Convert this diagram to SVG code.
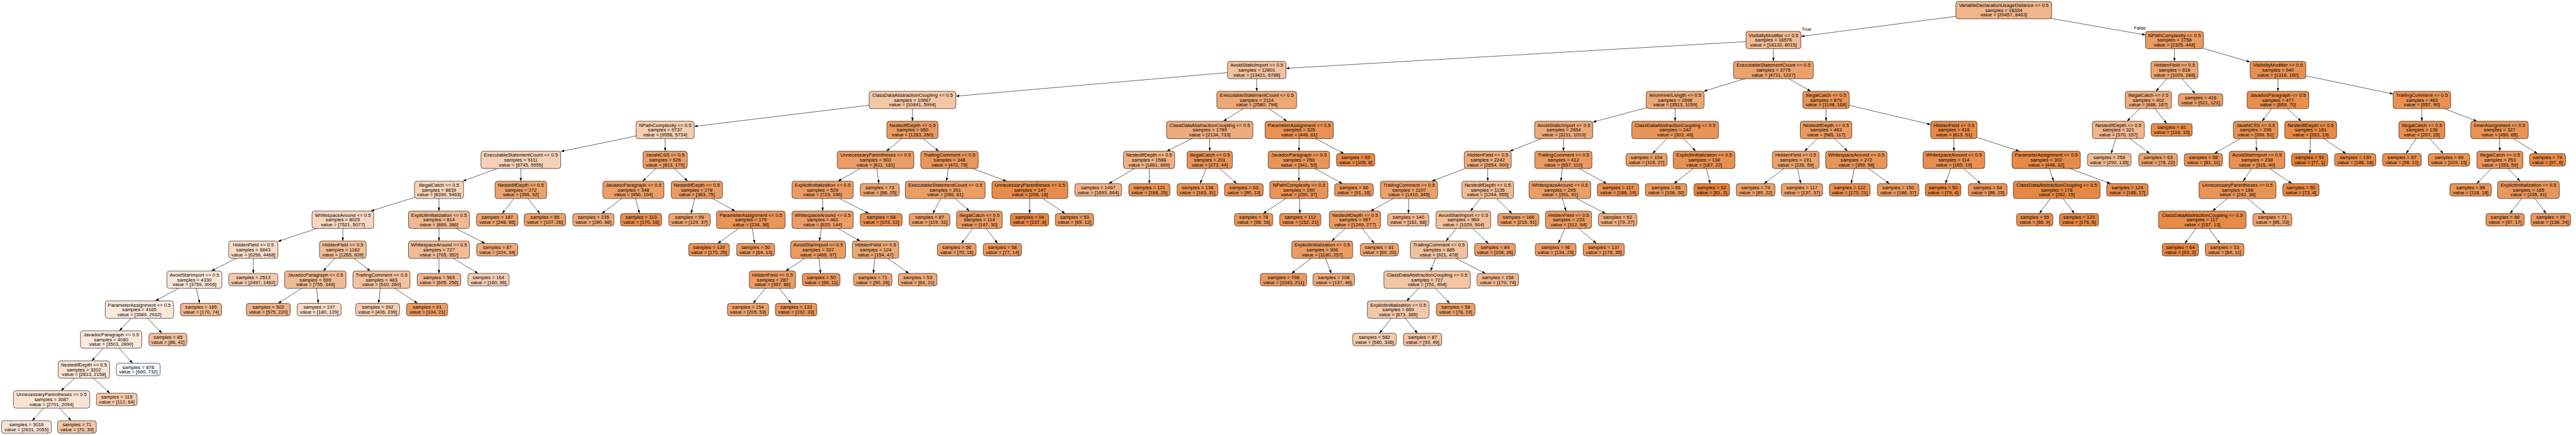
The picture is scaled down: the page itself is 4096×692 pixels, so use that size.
<svg xmlns="http://www.w3.org/2000/svg" width="4096" height="692" viewBox="0 0 4096 692">
<defs>
<marker id="ah" viewBox="0 0 10 7" refX="10" refY="3.5" markerWidth="5.5" markerHeight="3.85" markerUnits="userSpaceOnUse" orient="auto"><path d="M0,0L10,3.5L0,7z" fill="#000"/></marker>
<style>
.e line{stroke:#000;stroke-width:0.6;marker-end:url(#ah)}
.n rect{stroke:#000;stroke-width:0.6;rx:4px;ry:4px}
text{font-family:"Liberation Sans",Arial,Helvetica,sans-serif;font-size:7.7px;text-anchor:middle;fill:#000}
</style>
</defs>
<rect width="4096" height="692" fill="#fff"/>
<g id="connectors" class="e">
<line x1="3186.1" y1="16.1" x2="2863.7" y2="58.0"/>
<line x1="3186.1" y1="16.1" x2="3411.5" y2="55.6"/>
<line x1="2819.9" y1="63.7" x2="2044.9" y2="108.7"/>
<line x1="2819.9" y1="63.7" x2="2819.9" y2="97.55"/>
<line x1="1998.3" y1="111.4" x2="1519.9" y2="153.0"/>
<line x1="1998.3" y1="111.4" x2="1998.3" y2="145.15"/>
<line x1="1450.9" y1="159.0" x2="1103.9" y2="201.1"/>
<line x1="1450.9" y1="159.0" x2="1450.9" y2="192.85"/>
<line x1="1057.6" y1="206.7" x2="891.7" y2="241.1"/>
<line x1="1057.6" y1="206.7" x2="1057.6" y2="240.45"/>
<line x1="828.2" y1="254.3" x2="735.85" y2="288.15"/>
<line x1="828.2" y1="254.3" x2="828.2" y2="288.15"/>
<line x1="698.0" y1="302.0" x2="589.55" y2="335.75"/>
<line x1="698.0" y1="302.0" x2="698.0" y2="335.75"/>
<line x1="545.1" y1="349.6" x2="441.85" y2="384.14"/>
<line x1="545.1" y1="349.6" x2="545.1" y2="383.35"/>
<line x1="402.8" y1="397.2" x2="336.3" y2="431.05"/>
<line x1="402.8" y1="397.2" x2="402.8" y2="434.93"/>
<line x1="309.1" y1="444.9" x2="247.0" y2="478.65"/>
<line x1="309.1" y1="444.9" x2="317.5" y2="482.53"/>
<line x1="221.6" y1="492.5" x2="189.75" y2="526.25"/>
<line x1="221.6" y1="492.5" x2="257.5" y2="530.13"/>
<line x1="176.7" y1="540.1" x2="146.06" y2="573.95"/>
<line x1="176.7" y1="540.1" x2="210.86" y2="577.83"/>
<line x1="133.5" y1="587.8" x2="96.97" y2="621.55"/>
<line x1="133.5" y1="587.8" x2="174.7" y2="625.43"/>
<line x1="82.0" y1="635.4" x2="51.18" y2="669.23"/>
<line x1="82.0" y1="635.4" x2="113.2" y2="669.23"/>
<line x1="545.1" y1="397.2" x2="514.1" y2="431.05"/>
<line x1="545.1" y1="397.2" x2="588.72" y2="431.05"/>
<line x1="501.4" y1="444.9" x2="442.26" y2="482.53"/>
<line x1="501.4" y1="444.9" x2="506.22" y2="482.53"/>
<line x1="606.6" y1="444.9" x2="601.78" y2="482.53"/>
<line x1="606.6" y1="444.9" x2="664.0" y2="482.53"/>
<line x1="698.0" y1="349.6" x2="698.0" y2="383.35"/>
<line x1="698.0" y1="349.6" x2="771.22" y2="387.23"/>
<line x1="698.0" y1="397.2" x2="698.0" y2="434.93"/>
<line x1="698.0" y1="397.2" x2="760.23" y2="434.93"/>
<line x1="828.2" y1="302.0" x2="798.47" y2="339.63"/>
<line x1="828.2" y1="302.0" x2="858.48" y2="339.63"/>
<line x1="1057.6" y1="254.3" x2="1021.85" y2="288.15"/>
<line x1="1057.6" y1="254.3" x2="1093.35" y2="288.15"/>
<line x1="1007.2" y1="302.0" x2="956.83" y2="339.63"/>
<line x1="1007.2" y1="302.0" x2="1016.85" y2="339.63"/>
<line x1="1108.0" y1="302.0" x2="1098.83" y2="339.63"/>
<line x1="1108.0" y1="302.0" x2="1168.93" y2="335.75"/>
<line x1="1193.9" y1="349.6" x2="1141.32" y2="387.23"/>
<line x1="1193.9" y1="349.6" x2="1199.99" y2="387.23"/>
<line x1="1450.9" y1="206.7" x2="1409.26" y2="240.45"/>
<line x1="1450.9" y1="206.7" x2="1492.61" y2="240.45"/>
<line x1="1392.2" y1="254.3" x2="1332.48" y2="288.15"/>
<line x1="1392.2" y1="254.3" x2="1397.5" y2="292.03"/>
<line x1="1308.0" y1="302.0" x2="1308.0" y2="335.75"/>
<line x1="1308.0" y1="302.0" x2="1381.61" y2="339.63"/>
<line x1="1308.0" y1="349.6" x2="1302.89" y2="383.35"/>
<line x1="1308.0" y1="349.6" x2="1367.72" y2="383.35"/>
<line x1="1300.8" y1="397.2" x2="1249.3" y2="431.05"/>
<line x1="1300.8" y1="397.2" x2="1304.75" y2="434.93"/>
<line x1="1228.2" y1="444.9" x2="1197.52" y2="482.53"/>
<line x1="1228.2" y1="444.9" x2="1258.01" y2="482.53"/>
<line x1="1392.2" y1="397.2" x2="1388.72" y2="434.93"/>
<line x1="1392.2" y1="397.2" x2="1445.18" y2="434.93"/>
<line x1="1509.7" y1="254.3" x2="1504.95" y2="288.15"/>
<line x1="1509.7" y1="254.3" x2="1600.42" y2="288.15"/>
<line x1="1503.0" y1="302.0" x2="1483.31" y2="339.63"/>
<line x1="1503.0" y1="302.0" x2="1541.52" y2="335.75"/>
<line x1="1557.3" y1="349.6" x2="1528.83" y2="387.23"/>
<line x1="1557.3" y1="349.6" x2="1586.24" y2="387.23"/>
<line x1="1637.6" y1="302.0" x2="1637.2" y2="339.63"/>
<line x1="1637.6" y1="302.0" x2="1693.66" y2="339.63"/>
<line x1="1998.3" y1="159.0" x2="1945.24" y2="192.85"/>
<line x1="1998.3" y1="159.0" x2="2046.25" y2="192.85"/>
<line x1="1923.5" y1="206.7" x2="1855.12" y2="240.45"/>
<line x1="1923.5" y1="206.7" x2="1923.5" y2="240.45"/>
<line x1="1827.1" y1="254.3" x2="1763.13" y2="292.03"/>
<line x1="1827.1" y1="254.3" x2="1827.5" y2="292.03"/>
<line x1="1923.5" y1="254.3" x2="1908.16" y2="292.03"/>
<line x1="1923.5" y1="254.3" x2="1966.43" y2="292.03"/>
<line x1="2065.9" y1="206.7" x2="2065.47" y2="240.45"/>
<line x1="2065.9" y1="206.7" x2="2136.83" y2="244.33"/>
<line x1="2065.3" y1="254.3" x2="2065.3" y2="288.15"/>
<line x1="2065.3" y1="254.3" x2="2134.49" y2="292.03"/>
<line x1="2065.3" y1="302.0" x2="2008.37" y2="339.63"/>
<line x1="2065.3" y1="302.0" x2="2067.04" y2="339.63"/>
<line x1="2819.9" y1="111.4" x2="2709.04" y2="145.15"/>
<line x1="2819.9" y1="111.4" x2="2879.2" y2="145.15"/>
<line x1="2663.6" y1="159.0" x2="2532.65" y2="194.25"/>
<line x1="2663.6" y1="159.0" x2="2663.6" y2="192.85"/>
<line x1="2486.4" y1="206.7" x2="2400.72" y2="240.45"/>
<line x1="2486.4" y1="206.7" x2="2485.97" y2="240.45"/>
<line x1="2365.6" y1="254.3" x2="2276.8" y2="288.15"/>
<line x1="2365.6" y1="254.3" x2="2365.6" y2="288.15"/>
<line x1="2240.4" y1="302.0" x2="2179.47" y2="335.75"/>
<line x1="2240.4" y1="302.0" x2="2239.53" y2="339.63"/>
<line x1="2154.5" y1="349.6" x2="2117.55" y2="383.35"/>
<line x1="2154.5" y1="349.6" x2="2185.18" y2="387.23"/>
<line x1="2102.4" y1="397.2" x2="2053.77" y2="434.93"/>
<line x1="2102.4" y1="397.2" x2="2116.87" y2="434.93"/>
<line x1="2365.6" y1="302.0" x2="2338.08" y2="335.75"/>
<line x1="2365.6" y1="302.0" x2="2404.11" y2="339.63"/>
<line x1="2326.8" y1="349.6" x2="2299.28" y2="383.35"/>
<line x1="2326.8" y1="349.6" x2="2366.65" y2="387.23"/>
<line x1="2288.0" y1="397.2" x2="2274.67" y2="431.05"/>
<line x1="2288.0" y1="397.2" x2="2362.01" y2="434.93"/>
<line x1="2269.2" y1="444.9" x2="2236.57" y2="478.65"/>
<line x1="2269.2" y1="444.9" x2="2305.1" y2="482.53"/>
<line x1="2223.2" y1="492.5" x2="2193.39" y2="530.13"/>
<line x1="2223.2" y1="492.5" x2="2253.88" y2="530.13"/>
<line x1="2485.8" y1="254.3" x2="2481.9" y2="288.15"/>
<line x1="2485.8" y1="254.3" x2="2554.59" y2="292.03"/>
<line x1="2480.3" y1="302.0" x2="2490.09" y2="335.75"/>
<line x1="2480.3" y1="302.0" x2="2552.97" y2="339.63"/>
<line x1="2494.1" y1="349.6" x2="2477.89" y2="387.23"/>
<line x1="2494.1" y1="349.6" x2="2538.38" y2="387.23"/>
<line x1="2663.6" y1="206.7" x2="2627.7" y2="244.33"/>
<line x1="2663.6" y1="206.7" x2="2696.23" y2="240.45"/>
<line x1="2709.6" y1="254.3" x2="2661.84" y2="292.03"/>
<line x1="2709.6" y1="254.3" x2="2719.25" y2="292.03"/>
<line x1="2903.5" y1="159.0" x2="2903.5" y2="192.85"/>
<line x1="2903.5" y1="159.0" x2="3069.95" y2="198.05"/>
<line x1="2903.5" y1="206.7" x2="2869.31" y2="240.45"/>
<line x1="2903.5" y1="206.7" x2="2937.69" y2="240.45"/>
<line x1="2855.3" y1="254.3" x2="2804.93" y2="292.03"/>
<line x1="2855.3" y1="254.3" x2="2863.21" y2="292.03"/>
<line x1="2951.7" y1="254.3" x2="2943.4" y2="292.03"/>
<line x1="2951.7" y1="254.3" x2="3004.28" y2="292.03"/>
<line x1="3106.8" y1="206.7" x2="3106.8" y2="240.45"/>
<line x1="3106.8" y1="206.7" x2="3210.92" y2="240.45"/>
<line x1="3106.8" y1="254.3" x2="3093.28" y2="292.03"/>
<line x1="3106.8" y1="254.3" x2="3149.34" y2="292.03"/>
<line x1="3253.6" y1="254.3" x2="3265.45" y2="288.15"/>
<line x1="3253.6" y1="254.3" x2="3355.68" y2="292.03"/>
<line x1="3270.3" y1="302.0" x2="3242.7" y2="339.63"/>
<line x1="3270.3" y1="302.0" x2="3298.29" y2="339.63"/>
<line x1="3457.5" y1="63.7" x2="3457.5" y2="97.55"/>
<line x1="3457.5" y1="63.7" x2="3577.8" y2="98.56"/>
<line x1="3457.5" y1="111.4" x2="3428.06" y2="145.15"/>
<line x1="3457.5" y1="111.4" x2="3490.39" y2="149.03"/>
<line x1="3416.0" y1="159.0" x2="3382.17" y2="192.85"/>
<line x1="3416.0" y1="159.0" x2="3445.33" y2="196.73"/>
<line x1="3368.3" y1="206.7" x2="3356.91" y2="244.33"/>
<line x1="3368.3" y1="206.7" x2="3418.27" y2="244.33"/>
<line x1="3622.1" y1="111.4" x2="3622.1" y2="145.15"/>
<line x1="3622.1" y1="111.4" x2="3805.2" y2="149.49"/>
<line x1="3622.1" y1="159.0" x2="3596.92" y2="192.85"/>
<line x1="3622.1" y1="159.0" x2="3658.98" y2="192.85"/>
<line x1="3586.6" y1="206.7" x2="3520.89" y2="244.33"/>
<line x1="3586.6" y1="206.7" x2="3588.16" y2="240.45"/>
<line x1="3588.8" y1="254.3" x2="3566.81" y2="288.15"/>
<line x1="3588.8" y1="254.3" x2="3643.99" y2="292.03"/>
<line x1="3557.8" y1="302.0" x2="3518.08" y2="335.75"/>
<line x1="3557.8" y1="302.0" x2="3601.6" y2="339.63"/>
<line x1="3501.8" y1="349.6" x2="3474.2" y2="387.23"/>
<line x1="3501.8" y1="349.6" x2="3529.87" y2="387.23"/>
<line x1="3674.1" y1="206.7" x2="3672.83" y2="244.33"/>
<line x1="3674.1" y1="206.7" x2="3730.16" y2="244.33"/>
<line x1="3850.9" y1="159.0" x2="3850.9" y2="192.85"/>
<line x1="3850.9" y1="159.0" x2="3938.5" y2="192.85"/>
<line x1="3850.9" y1="206.7" x2="3825.91" y2="244.33"/>
<line x1="3850.9" y1="206.7" x2="3885.06" y2="244.33"/>
<line x1="3974.4" y1="206.7" x2="3974.83" y2="240.45"/>
<line x1="3974.4" y1="206.7" x2="4034.81" y2="244.33"/>
<line x1="3975.0" y1="254.3" x2="3938.15" y2="292.03"/>
<line x1="3975.0" y1="254.3" x2="4007.2" y2="288.15"/>
<line x1="4020.4" y1="302.0" x2="3991.07" y2="339.63"/>
<line x1="4020.4" y1="302.0" x2="4048.39" y2="339.63"/>
<text x="2872.5" y="49.3">True</text>
<text x="3402.4" y="46.5">False</text>
</g>
<g id="n0" class="n" transform="translate(3186.1,16.1)"><rect x="-76.2" y="-13.85" width="152.4" height="27.7" fill="#f0b58b"/><text><tspan x="0" y="-5">VariableDeclarationUsageDistance &lt;= 0.5</tspan><tspan x="0" y="2.7">samples = 18334</tspan><tspan x="0" y="10.4">value = [20457, 8463]</tspan></text></g>
<g id="n1" class="n" transform="translate(2819.9,63.7)"><rect x="-43.75" y="-13.85" width="87.5" height="27.7" fill="#f0b990"/><text><tspan x="0" y="-5">VisibilityModifier &lt;= 0.5</tspan><tspan x="0" y="2.7">samples = 16576</tspan><tspan x="0" y="10.4">value = [18132, 8015]</tspan></text></g>
<g id="n2" class="n" transform="translate(1998.3,111.4)"><rect x="-46.55" y="-13.85" width="93.1" height="27.7" fill="#f2c19d"/><text><tspan x="0" y="-5">AvoidStaticImport &lt;= 0.5</tspan><tspan x="0" y="2.7">samples = 12801</tspan><tspan x="0" y="10.4">value = [13421, 6788]</tspan></text></g>
<g id="n3" class="n" transform="translate(1450.9,159.0)"><rect x="-68.95" y="-13.85" width="137.9" height="27.7" fill="#f3c7a6"/><text><tspan x="0" y="-5">ClassDataAbstractionCoupling &lt;= 0.5</tspan><tspan x="0" y="2.7">samples = 10687</tspan><tspan x="0" y="10.4">value = [10841, 5994]</tspan></text></g>
<g id="n4" class="n" transform="translate(1057.6,206.7)"><rect x="-46.25" y="-13.85" width="92.5" height="27.7" fill="#f5cdb0"/><text><tspan x="0" y="-5">NPathComplexity &lt;= 0.5</tspan><tspan x="0" y="2.7">samples = 9737</tspan><tspan x="0" y="10.4">value = [9558, 5734]</tspan></text></g>
<g id="n5" class="n" transform="translate(828.2,254.3)"><rect x="-63.45" y="-13.85" width="126.9" height="27.7" fill="#f6d1b7"/><text><tspan x="0" y="-5">ExecutableStatementCount &lt;= 0.5</tspan><tspan x="0" y="2.7">samples = 9111</tspan><tspan x="0" y="10.4">value = [8745, 5555]</tspan></text></g>
<g id="n6" class="n" transform="translate(698.0,302.0)"><rect x="-39.05" y="-13.85" width="78.1" height="27.7" fill="#f6d3ba"/><text><tspan x="0" y="-5">IllegalCatch &lt;= 0.5</tspan><tspan x="0" y="2.7">samples = 8839</tspan><tspan x="0" y="10.4">value = [8390, 5463]</tspan></text></g>
<g id="n7" class="n" transform="translate(545.1,349.6)"><rect x="-49.05" y="-13.85" width="98.1" height="27.7" fill="#f6d6bf"/><text><tspan x="0" y="-5">WhitespaceAround &lt;= 0.5</tspan><tspan x="0" y="2.7">samples = 8025</tspan><tspan x="0" y="10.4">value = [7521, 5077]</tspan></text></g>
<g id="n8" class="n" transform="translate(402.8,397.2)"><rect x="-39.05" y="-13.85" width="78.1" height="27.7" fill="#f8dbc6"/><text><tspan x="0" y="-5">HiddenField &lt;= 0.5</tspan><tspan x="0" y="2.7">samples = 6843</tspan><tspan x="0" y="10.4">value = [6256, 4468]</tspan></text></g>
<g id="n9" class="n" transform="translate(309.1,444.9)"><rect x="-43.75" y="-13.85" width="87.5" height="27.7" fill="#fae6d7"/><text><tspan x="0" y="-5">AvoidStarImport &lt;= 0.5</tspan><tspan x="0" y="2.7">samples = 4330</tspan><tspan x="0" y="10.4">value = [3759, 3006]</tspan></text></g>
<g id="n10" class="n" transform="translate(221.6,492.5)"><rect x="-54.3" y="-13.85" width="108.6" height="27.7" fill="#fae8db"/><text><tspan x="0" y="-5">ParameterAssignment &lt;= 0.5</tspan><tspan x="0" y="2.7">samples = 4165</tspan><tspan x="0" y="10.4">value = [3589, 2932]</tspan></text></g>
<g id="n11" class="n" transform="translate(176.7,540.1)"><rect x="-48.75" y="-13.85" width="97.5" height="27.7" fill="#fae9dc"/><text><tspan x="0" y="-5">JavadocParagraph &lt;= 0.5</tspan><tspan x="0" y="2.7">samples = 4080</tspan><tspan x="0" y="10.4">value = [3503, 2890]</tspan></text></g>
<g id="n12" class="n" transform="translate(133.5,587.8)"><rect x="-41" y="-13.85" width="82" height="27.7" fill="#f9e2d1"/><text><tspan x="0" y="-5">NestedIfDepth &lt;= 0.5</tspan><tspan x="0" y="2.7">samples = 3202</tspan><tspan x="0" y="10.4">value = [2813, 2158]</tspan></text></g>
<g id="n13" class="n" transform="translate(82.0,635.4)"><rect x="-60.65" y="-13.85" width="121.3" height="27.7" fill="#f9e3d2"/><text><tspan x="0" y="-5">UnnecessaryParentheses &lt;= 0.5</tspan><tspan x="0" y="2.7">samples = 3087</tspan><tspan x="0" y="10.4">value = [2701, 2094]</tspan></text></g>
<g id="n14" class="n" transform="translate(42.1,679.2)"><rect x="-39.6" y="-9.97" width="79.2" height="19.94" fill="#f9e3d4"/><text><tspan x="0" y="-1.3">samples = 3016</tspan><tspan x="0" y="6.6">value = [2631, 2055]</tspan></text></g>
<g id="n15" class="n" transform="translate(122.4,679.2)"><rect x="-30.75" y="-9.97" width="61.5" height="19.94" fill="#f3c7a7"/><text><tspan x="0" y="-1.3">samples = 71</tspan><tspan x="0" y="6.6">value = [70, 39]</tspan></text></g>
<g id="n16" class="n" transform="translate(185.6,635.4)"><rect x="-32.4" y="-9.97" width="64.8" height="19.94" fill="#f4c9aa"/><text><tspan x="0" y="-1.3">samples = 115</tspan><tspan x="0" y="6.6">value = [112, 64]</tspan></text></g>
<g id="n17" class="n" transform="translate(219.9,587.8)"><rect x="-34.9" y="-9.97" width="69.8" height="19.94" fill="#f4f9fe"/><text><tspan x="0" y="-1.3">samples = 878</tspan><tspan x="0" y="6.6">value = [690, 732]</tspan></text></g>
<g id="n18" class="n" transform="translate(267.0,540.1)"><rect x="-30.2" y="-9.97" width="60.4" height="19.94" fill="#f2bf9a"/><text><tspan x="0" y="-1.3">samples = 85</tspan><tspan x="0" y="6.6">value = [86, 42]</tspan></text></g>
<g id="n19" class="n" transform="translate(319.7,492.5)"><rect x="-32.7" y="-9.97" width="65.4" height="19.94" fill="#f0b88f"/><text><tspan x="0" y="-1.3">samples = 165</tspan><tspan x="0" y="6.6">value = [170, 74]</tspan></text></g>
<g id="n20" class="n" transform="translate(402.8,444.9)"><rect x="-39.05" y="-9.97" width="78.1" height="19.94" fill="#f4cbad"/><text><tspan x="0" y="-1.3">samples = 2513</tspan><tspan x="0" y="6.6">value = [2497, 1462]</tspan></text></g>
<g id="n21" class="n" transform="translate(545.1,397.2)"><rect x="-37.1" y="-13.85" width="74.2" height="27.7" fill="#f2be98"/><text><tspan x="0" y="-5">HiddenField &lt;= 0.5</tspan><tspan x="0" y="2.7">samples = 1182</tspan><tspan x="0" y="10.4">value = [1265, 609]</tspan></text></g>
<g id="n22" class="n" transform="translate(501.4,444.9)"><rect x="-48.75" y="-13.85" width="97.5" height="27.7" fill="#f1bb94"/><text><tspan x="0" y="-5">JavadocParagraph &lt;= 0.5</tspan><tspan x="0" y="2.7">samples = 699</tspan><tspan x="0" y="10.4">value = [755, 349]</tspan></text></g>
<g id="n23" class="n" transform="translate(426.6,492.5)"><rect x="-34.9" y="-9.97" width="69.8" height="19.94" fill="#efb185"/><text><tspan x="0" y="-1.3">samples = 502</tspan><tspan x="0" y="6.6">value = [575, 220]</tspan></text></g>
<g id="n24" class="n" transform="translate(507.5,492.5)"><rect x="-34.9" y="-9.97" width="69.8" height="19.94" fill="#f8dbc7"/><text><tspan x="0" y="-1.3">samples = 197</tspan><tspan x="0" y="6.6">value = [180, 129]</tspan></text></g>
<g id="n25" class="n" transform="translate(606.6,444.9)"><rect x="-45.45" y="-13.85" width="90.9" height="27.7" fill="#f2c19e"/><text><tspan x="0" y="-5">TrailingComment &lt;= 0.5</tspan><tspan x="0" y="2.7">samples = 483</tspan><tspan x="0" y="10.4">value = [510, 260]</tspan></text></g>
<g id="n26" class="n" transform="translate(600.5,492.5)"><rect x="-34.9" y="-9.97" width="69.8" height="19.94" fill="#f4cbae"/><text><tspan x="0" y="-1.3">samples = 392</tspan><tspan x="0" y="6.6">value = [406, 239]</tspan></text></g>
<g id="n27" class="n" transform="translate(679.2,492.5)"><rect x="-32.7" y="-9.97" width="65.4" height="19.94" fill="#ea9a61"/><text><tspan x="0" y="-1.3">samples = 91</tspan><tspan x="0" y="6.6">value = [104, 21]</tspan></text></g>
<g id="n28" class="n" transform="translate(698.0,349.6)"><rect x="-48.5" y="-13.85" width="97" height="27.7" fill="#f0b991"/><text><tspan x="0" y="-5">ExplicitInitialization &lt;= 0.5</tspan><tspan x="0" y="2.7">samples = 814</tspan><tspan x="0" y="10.4">value = [869, 386]</tspan></text></g>
<g id="n29" class="n" transform="translate(698.0,397.2)"><rect x="-48.5" y="-13.85" width="97" height="27.7" fill="#f1bb94"/><text><tspan x="0" y="-5">WhitespaceAround &lt;= 0.5</tspan><tspan x="0" y="2.7">samples = 727</tspan><tspan x="0" y="10.4">value = [765, 352]</tspan></text></g>
<g id="n30" class="n" transform="translate(698.0,444.9)"><rect x="-34.65" y="-9.97" width="69.3" height="19.94" fill="#f0b68d"/><text><tspan x="0" y="-1.3">samples = 563</tspan><tspan x="0" y="6.6">value = [605, 256]</tspan></text></g>
<g id="n31" class="n" transform="translate(776.7,444.9)"><rect x="-32.7" y="-9.97" width="65.4" height="19.94" fill="#f5cdb0"/><text><tspan x="0" y="-1.3">samples = 164</tspan><tspan x="0" y="6.6">value = [160, 96]</tspan></text></g>
<g id="n32" class="n" transform="translate(790.6,397.2)"><rect x="-32.7" y="-9.97" width="65.4" height="19.94" fill="#eeaa7a"/><text><tspan x="0" y="-1.3">samples = 87</tspan><tspan x="0" y="6.6">value = [104, 34]</tspan></text></g>
<g id="n33" class="n" transform="translate(828.2,302.0)"><rect x="-41" y="-13.85" width="82" height="27.7" fill="#eca26c"/><text><tspan x="0" y="-5">NestedIfDepth &lt;= 0.5</tspan><tspan x="0" y="2.7">samples = 272</tspan><tspan x="0" y="10.4">value = [355, 92]</tspan></text></g>
<g id="n34" class="n" transform="translate(790.6,349.6)"><rect x="-32.95" y="-9.97" width="65.9" height="19.94" fill="#eca36e"/><text><tspan x="0" y="-1.3">samples = 187</tspan><tspan x="0" y="6.6">value = [248, 66]</tspan></text></g>
<g id="n35" class="n" transform="translate(866.5,349.6)"><rect x="-32.95" y="-9.97" width="65.9" height="19.94" fill="#eba069"/><text><tspan x="0" y="-1.3">samples = 85</tspan><tspan x="0" y="6.6">value = [107, 26]</tspan></text></g>
<g id="n36" class="n" transform="translate(1057.6,254.3)"><rect x="-35.2" y="-13.85" width="70.4" height="27.7" fill="#eb9d65"/><text><tspan x="0" y="-5">JavaNCSS &lt;= 0.5</tspan><tspan x="0" y="2.7">samples = 626</tspan><tspan x="0" y="10.4">value = [813, 179]</tspan></text></g>
<g id="n37" class="n" transform="translate(1007.2,302.0)"><rect x="-48.5" y="-13.85" width="97" height="27.7" fill="#eb9e67"/><text><tspan x="0" y="-5">JavadocParagraph &lt;= 0.5</tspan><tspan x="0" y="2.7">samples = 348</tspan><tspan x="0" y="10.4">value = [450, 104]</tspan></text></g>
<g id="n38" class="n" transform="translate(943.5,349.6)"><rect x="-32.7" y="-9.97" width="65.4" height="19.94" fill="#eda977"/><text><tspan x="0" y="-1.3">samples = 235</tspan><tspan x="0" y="6.6">value = [280, 88]</tspan></text></g>
<g id="n39" class="n" transform="translate(1019.4,349.6)"><rect x="-32.7" y="-9.97" width="65.4" height="19.94" fill="#e78d4c"/><text><tspan x="0" y="-1.3">samples = 113</tspan><tspan x="0" y="6.6">value = [170, 16]</tspan></text></g>
<g id="n40" class="n" transform="translate(1108.0,302.0)"><rect x="-40.7" y="-13.85" width="81.4" height="27.7" fill="#ea9b62"/><text><tspan x="0" y="-5">NestedIfDepth &lt;= 0.5</tspan><tspan x="0" y="2.7">samples = 278</tspan><tspan x="0" y="10.4">value = [363, 75]</tspan></text></g>
<g id="n41" class="n" transform="translate(1096.4,349.6)"><rect x="-32.95" y="-9.97" width="65.9" height="19.94" fill="#eca572"/><text><tspan x="0" y="-1.3">samples = 99</tspan><tspan x="0" y="6.6">value = [129, 37]</tspan></text></g>
<g id="n42" class="n" transform="translate(1193.9,349.6)"><rect x="-54.55" y="-13.85" width="109.1" height="27.7" fill="#e99559"/><text><tspan x="0" y="-5">ParameterAssignment &lt;= 0.5</tspan><tspan x="0" y="2.7">samples = 179</tspan><tspan x="0" y="10.4">value = [234, 38]</tspan></text></g>
<g id="n43" class="n" transform="translate(1127.4,397.2)"><rect x="-32.4" y="-9.97" width="64.8" height="19.94" fill="#e99456"/><text><tspan x="0" y="-1.3">samples = 129</tspan><tspan x="0" y="6.6">value = [170, 25]</tspan></text></g>
<g id="n44" class="n" transform="translate(1201.6,397.2)"><rect x="-30.2" y="-9.97" width="60.4" height="19.94" fill="#ea9b61"/><text><tspan x="0" y="-1.3">samples = 50</tspan><tspan x="0" y="6.6">value = [64, 13]</tspan></text></g>
<g id="n45" class="n" transform="translate(1450.9,206.7)"><rect x="-40.7" y="-13.85" width="81.4" height="27.7" fill="#ea9a61"/><text><tspan x="0" y="-5">NestedIfDepth &lt;= 0.5</tspan><tspan x="0" y="2.7">samples = 950</tspan><tspan x="0" y="10.4">value = [1283, 260]</tspan></text></g>
<g id="n46" class="n" transform="translate(1392.2,254.3)"><rect x="-60.95" y="-13.85" width="121.9" height="27.7" fill="#eb9d65"/><text><tspan x="0" y="-5">UnnecessaryParentheses &lt;= 0.5</tspan><tspan x="0" y="2.7">samples = 602</tspan><tspan x="0" y="10.4">value = [811, 181]</tspan></text></g>
<g id="n47" class="n" transform="translate(1308.0,302.0)"><rect x="-48.75" y="-13.85" width="97.5" height="27.7" fill="#eb9c64"/><text><tspan x="0" y="-5">ExplicitInitialization &lt;= 0.5</tspan><tspan x="0" y="2.7">samples = 529</tspan><tspan x="0" y="10.4">value = [723, 156]</tspan></text></g>
<g id="n48" class="n" transform="translate(1308.0,349.6)"><rect x="-48.75" y="-13.85" width="97.5" height="27.7" fill="#eb9e67"/><text><tspan x="0" y="-5">WhitespaceAround &lt;= 0.5</tspan><tspan x="0" y="2.7">samples = 461</tspan><tspan x="0" y="10.4">value = [620, 144]</tspan></text></g>
<g id="n49" class="n" transform="translate(1300.8,397.2)"><rect x="-43.75" y="-13.85" width="87.5" height="27.7" fill="#ea9b62"/><text><tspan x="0" y="-5">AvoidStarImport &lt;= 0.5</tspan><tspan x="0" y="2.7">samples = 337</tspan><tspan x="0" y="10.4">value = [466, 97]</tspan></text></g>
<g id="n50" class="n" transform="translate(1228.2,444.9)"><rect x="-36.85" y="-13.85" width="73.7" height="27.7" fill="#eb9c64"/><text><tspan x="0" y="-5">HiddenField &lt;= 0.5</tspan><tspan x="0" y="2.7">samples = 287</tspan><tspan x="0" y="10.4">value = [397, 86]</tspan></text></g>
<g id="n51" class="n" transform="translate(1189.4,492.5)"><rect x="-32.7" y="-9.97" width="65.4" height="19.94" fill="#eca26c"/><text><tspan x="0" y="-1.3">samples = 154</tspan><tspan x="0" y="6.6">value = [205, 53]</tspan></text></g>
<g id="n52" class="n" transform="translate(1265.9,492.5)"><rect x="-32.95" y="-9.97" width="65.9" height="19.94" fill="#e9975b"/><text><tspan x="0" y="-1.3">samples = 133</tspan><tspan x="0" y="6.6">value = [192, 33]</tspan></text></g>
<g id="n53" class="n" transform="translate(1305.8,444.9)"><rect x="-29.9" y="-9.97" width="59.8" height="19.94" fill="#e99559"/><text><tspan x="0" y="-1.3">samples = 50</tspan><tspan x="0" y="6.6">value = [69, 11]</tspan></text></g>
<g id="n54" class="n" transform="translate(1392.2,397.2)"><rect x="-36.85" y="-13.85" width="73.7" height="27.7" fill="#eda775"/><text><tspan x="0" y="-5">HiddenField &lt;= 0.5</tspan><tspan x="0" y="2.7">samples = 124</tspan><tspan x="0" y="10.4">value = [154, 47]</tspan></text></g>
<g id="n55" class="n" transform="translate(1387.8,444.9)"><rect x="-30.45" y="-9.97" width="60.9" height="19.94" fill="#eca572"/><text><tspan x="0" y="-1.3">samples = 71</tspan><tspan x="0" y="6.6">value = [90, 26]</tspan></text></g>
<g id="n56" class="n" transform="translate(1459.2,444.9)"><rect x="-30.75" y="-9.97" width="61.5" height="19.94" fill="#eeaa7a"/><text><tspan x="0" y="-1.3">samples = 53</tspan><tspan x="0" y="6.6">value = [64, 21]</tspan></text></g>
<g id="n57" class="n" transform="translate(1401.1,349.6)"><rect x="-33.25" y="-9.97" width="66.5" height="19.94" fill="#e89050"/><text><tspan x="0" y="-1.3">samples = 68</tspan><tspan x="0" y="6.6">value = [103, 12]</tspan></text></g>
<g id="n58" class="n" transform="translate(1398.9,302.0)"><rect x="-31" y="-9.97" width="62" height="19.94" fill="#eca571"/><text><tspan x="0" y="-1.3">samples = 73</tspan><tspan x="0" y="6.6">value = [88, 25]</tspan></text></g>
<g id="n59" class="n" transform="translate(1509.7,254.3)"><rect x="-45.7" y="-13.85" width="91.4" height="27.7" fill="#e9965a"/><text><tspan x="0" y="-5">TrailingComment &lt;= 0.5</tspan><tspan x="0" y="2.7">samples = 348</tspan><tspan x="0" y="10.4">value = [472, 79]</tspan></text></g>
<g id="n60" class="n" transform="translate(1503.0,302.0)"><rect x="-63.45" y="-13.85" width="126.9" height="27.7" fill="#eb9e66"/><text><tspan x="0" y="-5">ExecutableStatementCount &lt;= 0.5</tspan><tspan x="0" y="2.7">samples = 201</tspan><tspan x="0" y="10.4">value = [266, 61]</tspan></text></g>
<g id="n61" class="n" transform="translate(1478.1,349.6)"><rect x="-32.4" y="-9.97" width="64.8" height="19.94" fill="#eca26d"/><text><tspan x="0" y="-1.3">samples = 87</tspan><tspan x="0" y="6.6">value = [119, 31]</tspan></text></g>
<g id="n62" class="n" transform="translate(1557.3,349.6)"><rect x="-36.3" y="-13.85" width="72.6" height="27.7" fill="#ea9b61"/><text><tspan x="0" y="-5">IllegalCatch &lt;= 0.5</tspan><tspan x="0" y="2.7">samples = 114</tspan><tspan x="0" y="10.4">value = [147, 30]</tspan></text></g>
<g id="n63" class="n" transform="translate(1521.3,397.2)"><rect x="-30.75" y="-9.97" width="61.5" height="19.94" fill="#eb9e66"/><text><tspan x="0" y="-1.3">samples = 56</tspan><tspan x="0" y="6.6">value = [70, 16]</tspan></text></g>
<g id="n64" class="n" transform="translate(1593.9,397.2)"><rect x="-30.45" y="-9.97" width="60.9" height="19.94" fill="#ea985d"/><text><tspan x="0" y="-1.3">samples = 58</tspan><tspan x="0" y="6.6">value = [77, 14]</tspan></text></g>
<g id="n65" class="n" transform="translate(1637.6,302.0)"><rect x="-60.4" y="-13.85" width="120.8" height="27.7" fill="#e78c4a"/><text><tspan x="0" y="-5">UnnecessaryParentheses &lt;= 0.5</tspan><tspan x="0" y="2.7">samples = 147</tspan><tspan x="0" y="10.4">value = [206, 18]</tspan></text></g>
<g id="n66" class="n" transform="translate(1637.1,349.6)"><rect x="-30.45" y="-9.97" width="60.9" height="19.94" fill="#e68642"/><text><tspan x="0" y="-1.3">samples = 94</tspan><tspan x="0" y="6.6">value = [137, 6]</tspan></text></g>
<g id="n67" class="n" transform="translate(1708.5,349.6)"><rect x="-30.45" y="-9.97" width="60.9" height="19.94" fill="#e9975b"/><text><tspan x="0" y="-1.3">samples = 53</tspan><tspan x="0" y="6.6">value = [69, 12]</tspan></text></g>
<g id="n68" class="n" transform="translate(1998.3,159.0)"><rect x="-63.45" y="-13.85" width="126.9" height="27.7" fill="#eda876"/><text><tspan x="0" y="-5">ExecutableStatementCount &lt;= 0.5</tspan><tspan x="0" y="2.7">samples = 2114</tspan><tspan x="0" y="10.4">value = [2580, 794]</tspan></text></g>
<g id="n69" class="n" transform="translate(1923.5,206.7)"><rect x="-68.7" y="-13.85" width="137.4" height="27.7" fill="#eeac7d"/><text><tspan x="0" y="-5">ClassDataAbstractionCoupling &lt;= 0.5</tspan><tspan x="0" y="2.7">samples = 1789</tspan><tspan x="0" y="10.4">value = [2134, 733]</tspan></text></g>
<g id="n70" class="n" transform="translate(1827.1,254.3)"><rect x="-40.7" y="-13.85" width="81.4" height="27.7" fill="#efb082"/><text><tspan x="0" y="-5">NestedIfDepth &lt;= 0.5</tspan><tspan x="0" y="2.7">samples = 1588</tspan><tspan x="0" y="10.4">value = [1861, 689]</tspan></text></g>
<g id="n71" class="n" transform="translate(1746.2,302.0)"><rect x="-37.1" y="-9.97" width="74.2" height="19.94" fill="#efb287"/><text><tspan x="0" y="-1.3">samples = 1467</tspan><tspan x="0" y="6.6">value = [1693, 664]</tspan></text></g>
<g id="n72" class="n" transform="translate(1827.6,302.0)"><rect x="-32.7" y="-9.97" width="65.4" height="19.94" fill="#e99457"/><text><tspan x="0" y="-1.3">samples = 121</tspan><tspan x="0" y="6.6">value = [168, 25]</tspan></text></g>
<g id="n73" class="n" transform="translate(1923.5,254.3)"><rect x="-36" y="-13.85" width="72" height="27.7" fill="#e99559"/><text><tspan x="0" y="-5">IllegalCatch &lt;= 0.5</tspan><tspan x="0" y="2.7">samples = 201</tspan><tspan x="0" y="10.4">value = [273, 44]</tspan></text></g>
<g id="n74" class="n" transform="translate(1904.1,302.0)"><rect x="-32.4" y="-9.97" width="64.8" height="19.94" fill="#e9965a"/><text><tspan x="0" y="-1.3">samples = 138</tspan><tspan x="0" y="6.6">value = [183, 31]</tspan></text></g>
<g id="n75" class="n" transform="translate(1977.8,302.0)"><rect x="-30.75" y="-9.97" width="61.5" height="19.94" fill="#e99356"/><text><tspan x="0" y="-1.3">samples = 63</tspan><tspan x="0" y="6.6">value = [90, 13]</tspan></text></g>
<g id="n76" class="n" transform="translate(2065.9,206.7)"><rect x="-54.3" y="-13.85" width="108.6" height="27.7" fill="#e99254"/><text><tspan x="0" y="-5">ParameterAssignment &lt;= 0.5</tspan><tspan x="0" y="2.7">samples = 325</tspan><tspan x="0" y="10.4">value = [446, 61]</tspan></text></g>
<g id="n77" class="n" transform="translate(2065.3,254.3)"><rect x="-48.75" y="-13.85" width="97.5" height="27.7" fill="#e99558"/><text><tspan x="0" y="-5">JavadocParagraph &lt;= 0.5</tspan><tspan x="0" y="2.7">samples = 256</tspan><tspan x="0" y="10.4">value = [341, 53]</tspan></text></g>
<g id="n78" class="n" transform="translate(2065.3,302.0)"><rect x="-46.25" y="-13.85" width="92.5" height="27.7" fill="#e99456"/><text><tspan x="0" y="-5">NPathComplexity &lt;= 0.5</tspan><tspan x="0" y="2.7">samples = 190</tspan><tspan x="0" y="10.4">value = [250, 37]</tspan></text></g>
<g id="n79" class="n" transform="translate(1993.3,349.6)"><rect x="-30.45" y="-9.97" width="60.9" height="19.94" fill="#e99659"/><text><tspan x="0" y="-1.3">samples = 78</tspan><tspan x="0" y="6.6">value = [98, 16]</tspan></text></g>
<g id="n80" class="n" transform="translate(2067.5,349.6)"><rect x="-32.7" y="-9.97" width="65.4" height="19.94" fill="#e99254"/><text><tspan x="0" y="-1.3">samples = 112</tspan><tspan x="0" y="6.6">value = [152, 21]</tspan></text></g>
<g id="n81" class="n" transform="translate(2152.8,302.0)"><rect x="-30.75" y="-9.97" width="61.5" height="19.94" fill="#ea975c"/><text><tspan x="0" y="-1.3">samples = 66</tspan><tspan x="0" y="6.6">value = [91, 16]</tspan></text></g>
<g id="n82" class="n" transform="translate(2155.6,254.3)"><rect x="-30.45" y="-9.97" width="60.9" height="19.94" fill="#e78a48"/><text><tspan x="0" y="-1.3">samples = 69</tspan><tspan x="0" y="6.6">value = [105, 8]</tspan></text></g>
<g id="n83" class="n" transform="translate(2819.9,111.4)"><rect x="-63.45" y="-13.85" width="126.9" height="27.7" fill="#eca26d"/><text><tspan x="0" y="-5">ExecutableStatementCount &lt;= 0.5</tspan><tspan x="0" y="2.7">samples = 3775</tspan><tspan x="0" y="10.4">value = [4711, 1227]</tspan></text></g>
<g id="n84" class="n" transform="translate(2663.6,159.0)"><rect x="-46" y="-13.85" width="92" height="27.7" fill="#eda775"/><text><tspan x="0" y="-5">AnonInnerLength &lt;= 0.5</tspan><tspan x="0" y="2.7">samples = 2896</tspan><tspan x="0" y="10.4">value = [3513, 1059]</tspan></text></g>
<g id="n85" class="n" transform="translate(2486.4,206.7)"><rect x="-46.25" y="-13.85" width="92.5" height="27.7" fill="#eda977"/><text><tspan x="0" y="-5">AvoidStaticImport &lt;= 0.5</tspan><tspan x="0" y="2.7">samples = 2654</tspan><tspan x="0" y="10.4">value = [3211, 1010]</tspan></text></g>
<g id="n86" class="n" transform="translate(2365.6,254.3)"><rect x="-37.4" y="-13.85" width="74.8" height="27.7" fill="#eeac7c"/><text><tspan x="0" y="-5">HiddenField &lt;= 0.5</tspan><tspan x="0" y="2.7">samples = 2242</tspan><tspan x="0" y="10.4">value = [2654, 900]</tspan></text></g>
<g id="n87" class="n" transform="translate(2240.4,302.0)"><rect x="-45.45" y="-13.85" width="90.9" height="27.7" fill="#eba06a"/><text><tspan x="0" y="-5">TrailingComment &lt;= 0.5</tspan><tspan x="0" y="2.7">samples = 1107</tspan><tspan x="0" y="10.4">value = [1410, 345]</tspan></text></g>
<g id="n88" class="n" transform="translate(2154.5,349.6)"><rect x="-40.7" y="-13.85" width="81.4" height="27.7" fill="#eb9d65"/><text><tspan x="0" y="-5">NestedIfDepth &lt;= 0.5</tspan><tspan x="0" y="2.7">samples = 967</tspan><tspan x="0" y="10.4">value = [1249, 277]</tspan></text></g>
<g id="n89" class="n" transform="translate(2102.4,397.2)"><rect x="-48.5" y="-13.85" width="97" height="27.7" fill="#eb9c64"/><text><tspan x="0" y="-5">ExplicitInitialization &lt;= 0.5</tspan><tspan x="0" y="2.7">samples = 906</tspan><tspan x="0" y="10.4">value = [1180, 257]</tspan></text></g>
<g id="n90" class="n" transform="translate(2040.9,444.9)"><rect x="-36.85" y="-9.97" width="73.7" height="19.94" fill="#ea9a61"/><text><tspan x="0" y="-1.3">samples = 798</tspan><tspan x="0" y="6.6">value = [1043, 211]</tspan></text></g>
<g id="n91" class="n" transform="translate(2120.7,444.9)"><rect x="-32.95" y="-9.97" width="65.9" height="19.94" fill="#eeab7c"/><text><tspan x="0" y="-1.3">samples = 108</tspan><tspan x="0" y="6.6">value = [137, 46]</tspan></text></g>
<g id="n92" class="n" transform="translate(2193.3,397.2)"><rect x="-30.2" y="-9.97" width="60.4" height="19.94" fill="#eca672"/><text><tspan x="0" y="-1.3">samples = 61</tspan><tspan x="0" y="6.6">value = [69, 20]</tspan></text></g>
<g id="n93" class="n" transform="translate(2239.3,349.6)"><rect x="-32.7" y="-9.97" width="65.4" height="19.94" fill="#f0b68d"/><text><tspan x="0" y="-1.3">samples = 140</tspan><tspan x="0" y="6.6">value = [161, 68]</tspan></text></g>
<g id="n94" class="n" transform="translate(2365.6,302.0)"><rect x="-41" y="-13.85" width="82" height="27.7" fill="#f1b991"/><text><tspan x="0" y="-5">NestedIfDepth &lt;= 0.5</tspan><tspan x="0" y="2.7">samples = 1135</tspan><tspan x="0" y="10.4">value = [1244, 555]</tspan></text></g>
<g id="n95" class="n" transform="translate(2326.8,349.6)"><rect x="-43.5" y="-13.85" width="87" height="27.7" fill="#f2bf9a"/><text><tspan x="0" y="-5">AvoidStarImport &lt;= 0.5</tspan><tspan x="0" y="2.7">samples = 969</tspan><tspan x="0" y="10.4">value = [1029, 504]</tspan></text></g>
<g id="n96" class="n" transform="translate(2288.0,397.2)"><rect x="-45.45" y="-13.85" width="90.9" height="27.7" fill="#f2c2a0"/><text><tspan x="0" y="-5">TrailingComment &lt;= 0.5</tspan><tspan x="0" y="2.7">samples = 885</tspan><tspan x="0" y="10.4">value = [921, 478]</tspan></text></g>
<g id="n97" class="n" transform="translate(2269.2,444.9)"><rect x="-68.7" y="-13.85" width="137.4" height="27.7" fill="#f3c5a4"/><text><tspan x="0" y="-5">ClassDataAbstractionCoupling &lt;= 0.5</tspan><tspan x="0" y="2.7">samples = 727</tspan><tspan x="0" y="10.4">value = [751, 404]</tspan></text></g>
<g id="n98" class="n" transform="translate(2223.2,492.5)"><rect x="-49.05" y="-13.85" width="98.1" height="27.7" fill="#f4c9aa"/><text><tspan x="0" y="-5">ExplicitInitialization &lt;= 0.5</tspan><tspan x="0" y="2.7">samples = 669</tspan><tspan x="0" y="10.4">value = [673, 385]</tspan></text></g>
<g id="n99" class="n" transform="translate(2185.5,540.1)"><rect x="-34.65" y="-9.97" width="69.3" height="19.94" fill="#f4caac"/><text><tspan x="0" y="-1.3">samples = 582</tspan><tspan x="0" y="6.6">value = [580, 336]</tspan></text></g>
<g id="n100" class="n" transform="translate(2262.0,540.1)"><rect x="-30.45" y="-9.97" width="60.9" height="19.94" fill="#f3c3a1"/><text><tspan x="0" y="-1.3">samples = 87</tspan><tspan x="0" y="6.6">value = [93, 49]</tspan></text></g>
<g id="n101" class="n" transform="translate(2314.6,492.5)"><rect x="-30.75" y="-9.97" width="61.5" height="19.94" fill="#eba069"/><text><tspan x="0" y="-1.3">samples = 58</tspan><tspan x="0" y="6.6">value = [78, 19]</tspan></text></g>
<g id="n102" class="n" transform="translate(2381.6,444.9)"><rect x="-32.95" y="-9.97" width="65.9" height="19.94" fill="#f0b88f"/><text><tspan x="0" y="-1.3">samples = 158</tspan><tspan x="0" y="6.6">value = [170, 74]</tspan></text></g>
<g id="n103" class="n" transform="translate(2377.2,397.2)"><rect x="-32.4" y="-9.97" width="64.8" height="19.94" fill="#eb9f69"/><text><tspan x="0" y="-1.3">samples = 84</tspan><tspan x="0" y="6.6">value = [108, 26]</tspan></text></g>
<g id="n104" class="n" transform="translate(2414.3,349.6)"><rect x="-32.7" y="-9.97" width="65.4" height="19.94" fill="#eb9f68"/><text><tspan x="0" y="-1.3">samples = 166</tspan><tspan x="0" y="6.6">value = [215, 51]</tspan></text></g>
<g id="n105" class="n" transform="translate(2485.8,254.3)"><rect x="-45.45" y="-13.85" width="90.9" height="27.7" fill="#ea9a60"/><text><tspan x="0" y="-5">TrailingComment &lt;= 0.5</tspan><tspan x="0" y="2.7">samples = 412</tspan><tspan x="0" y="10.4">value = [557, 110]</tspan></text></g>
<g id="n106" class="n" transform="translate(2480.3,302.0)"><rect x="-49.05" y="-13.85" width="98.1" height="27.7" fill="#eb9e67"/><text><tspan x="0" y="-5">WhitespaceAround &lt;= 0.5</tspan><tspan x="0" y="2.7">samples = 295</tspan><tspan x="0" y="10.4">value = [391, 91]</tspan></text></g>
<g id="n107" class="n" transform="translate(2494.1,349.6)"><rect x="-36.55" y="-13.85" width="73.1" height="27.7" fill="#ea9b62"/><text><tspan x="0" y="-5">HiddenField &lt;= 0.5</tspan><tspan x="0" y="2.7">samples = 233</tspan><tspan x="0" y="10.4">value = [312, 64]</tspan></text></g>
<g id="n108" class="n" transform="translate(2473.6,397.2)"><rect x="-32.4" y="-9.97" width="64.8" height="19.94" fill="#eb9c64"/><text><tspan x="0" y="-1.3">samples = 96</tspan><tspan x="0" y="6.6">value = [134, 29]</tspan></text></g>
<g id="n109" class="n" transform="translate(2550.1,397.2)"><rect x="-32.7" y="-9.97" width="65.4" height="19.94" fill="#ea9a60"/><text><tspan x="0" y="-1.3">samples = 137</tspan><tspan x="0" y="6.6">value = [178, 35]</tspan></text></g>
<g id="n110" class="n" transform="translate(2572.2,349.6)"><rect x="-30.75" y="-9.97" width="61.5" height="19.94" fill="#eeac7d"/><text><tspan x="0" y="-1.3">samples = 62</tspan><tspan x="0" y="6.6">value = [79, 27]</tspan></text></g>
<g id="n111" class="n" transform="translate(2572.8,302.0)"><rect x="-32.95" y="-9.97" width="65.9" height="19.94" fill="#e88f50"/><text><tspan x="0" y="-1.3">samples = 117</tspan><tspan x="0" y="6.6">value = [166, 19]</tspan></text></g>
<g id="n112" class="n" transform="translate(2663.6,206.7)"><rect x="-68.95" y="-13.85" width="137.9" height="27.7" fill="#e99559"/><text><tspan x="0" y="-5">ClassDataAbstractionCoupling &lt;= 0.5</tspan><tspan x="0" y="2.7">samples = 242</tspan><tspan x="0" y="10.4">value = [302, 49]</tspan></text></g>
<g id="n113" class="n" transform="translate(2618.2,254.3)"><rect x="-32.7" y="-9.97" width="65.4" height="19.94" fill="#eb9f68"/><text><tspan x="0" y="-1.3">samples = 104</tspan><tspan x="0" y="6.6">value = [115, 27]</tspan></text></g>
<g id="n114" class="n" transform="translate(2709.6,254.3)"><rect x="-49.05" y="-13.85" width="98.1" height="27.7" fill="#e89050"/><text><tspan x="0" y="-5">ExplicitInitialization &lt;= 0.5</tspan><tspan x="0" y="2.7">samples = 138</tspan><tspan x="0" y="10.4">value = [187, 22]</tspan></text></g>
<g id="n115" class="n" transform="translate(2649.2,302.0)"><rect x="-32.95" y="-9.97" width="65.9" height="19.94" fill="#ea995e"/><text><tspan x="0" y="-1.3">samples = 86</tspan><tspan x="0" y="6.6">value = [106, 20]</tspan></text></g>
<g id="n116" class="n" transform="translate(2721.8,302.0)"><rect x="-28.25" y="-9.97" width="56.5" height="19.94" fill="#e6843e"/><text><tspan x="0" y="-1.3">samples = 52</tspan><tspan x="0" y="6.6">value = [81, 2]</tspan></text></g>
<g id="n117" class="n" transform="translate(2903.5,159.0)"><rect x="-36.85" y="-13.85" width="73.7" height="27.7" fill="#e99355"/><text><tspan x="0" y="-5">IllegalCatch &lt;= 0.5</tspan><tspan x="0" y="2.7">samples = 879</tspan><tspan x="0" y="10.4">value = [1198, 168]</tspan></text></g>
<g id="n118" class="n" transform="translate(2903.5,206.7)"><rect x="-41" y="-13.85" width="82" height="27.7" fill="#ea9a61"/><text><tspan x="0" y="-5">NestedIfDepth &lt;= 0.5</tspan><tspan x="0" y="2.7">samples = 463</tspan><tspan x="0" y="10.4">value = [585, 117]</tspan></text></g>
<g id="n119" class="n" transform="translate(2855.3,254.3)"><rect x="-37.1" y="-13.85" width="74.2" height="27.7" fill="#eca26d"/><text><tspan x="0" y="-5">HiddenField &lt;= 0.5</tspan><tspan x="0" y="2.7">samples = 191</tspan><tspan x="0" y="10.4">value = [226, 59]</tspan></text></g>
<g id="n120" class="n" transform="translate(2791.6,302.0)"><rect x="-30.75" y="-9.97" width="61.5" height="19.94" fill="#eba06a"/><text><tspan x="0" y="-1.3">samples = 74</tspan><tspan x="0" y="6.6">value = [89, 22]</tspan></text></g>
<g id="n121" class="n" transform="translate(2865.3,302.0)"><rect x="-32.7" y="-9.97" width="65.4" height="19.94" fill="#eca36e"/><text><tspan x="0" y="-1.3">samples = 117</tspan><tspan x="0" y="6.6">value = [137, 37]</tspan></text></g>
<g id="n122" class="n" transform="translate(2951.7,254.3)"><rect x="-48.75" y="-13.85" width="97.5" height="27.7" fill="#e99559"/><text><tspan x="0" y="-5">WhitespaceAround &lt;= 0.5</tspan><tspan x="0" y="2.7">samples = 272</tspan><tspan x="0" y="10.4">value = [359, 58]</tspan></text></g>
<g id="n123" class="n" transform="translate(2941.2,302.0)"><rect x="-32.4" y="-9.97" width="64.8" height="19.94" fill="#e89051"/><text><tspan x="0" y="-1.3">samples = 122</tspan><tspan x="0" y="6.6">value = [173, 21]</tspan></text></g>
<g id="n124" class="n" transform="translate(3018.2,302.0)"><rect x="-32.95" y="-9.97" width="65.9" height="19.94" fill="#ea9a60"/><text><tspan x="0" y="-1.3">samples = 150</tspan><tspan x="0" y="6.6">value = [186, 37]</tspan></text></g>
<g id="n125" class="n" transform="translate(3106.8,206.7)"><rect x="-36.85" y="-13.85" width="73.7" height="27.7" fill="#e78b49"/><text><tspan x="0" y="-5">HiddenField &lt;= 0.5</tspan><tspan x="0" y="2.7">samples = 416</tspan><tspan x="0" y="10.4">value = [613, 51]</tspan></text></g>
<g id="n126" class="n" transform="translate(3106.8,254.3)"><rect x="-49.05" y="-13.85" width="98.1" height="27.7" fill="#e88f50"/><text><tspan x="0" y="-5">WhitespaceAround &lt;= 0.5</tspan><tspan x="0" y="2.7">samples = 114</tspan><tspan x="0" y="10.4">value = [165, 19]</tspan></text></g>
<g id="n127" class="n" transform="translate(3089.7,302.0)"><rect x="-28.25" y="-9.97" width="56.5" height="19.94" fill="#e68743"/><text><tspan x="0" y="-1.3">samples = 50</tspan><tspan x="0" y="6.6">value = [79, 4]</tspan></text></g>
<g id="n128" class="n" transform="translate(3160.6,302.0)"><rect x="-30.75" y="-9.97" width="61.5" height="19.94" fill="#e9975b"/><text><tspan x="0" y="-1.3">samples = 64</tspan><tspan x="0" y="6.6">value = [86, 15]</tspan></text></g>
<g id="n129" class="n" transform="translate(3253.6,254.3)"><rect x="-54.3" y="-13.85" width="108.6" height="27.7" fill="#e78a47"/><text><tspan x="0" y="-5">ParameterAssignment &lt;= 0.5</tspan><tspan x="0" y="2.7">samples = 302</tspan><tspan x="0" y="10.4">value = [448, 32]</tspan></text></g>
<g id="n130" class="n" transform="translate(3270.3,302.0)"><rect x="-68.95" y="-13.85" width="137.9" height="27.7" fill="#e68844"/><text><tspan x="0" y="-5">ClassDataAbstractionCoupling &lt;= 0.5</tspan><tspan x="0" y="2.7">samples = 178</tspan><tspan x="0" y="10.4">value = [262, 15]</tspan></text></g>
<g id="n131" class="n" transform="translate(3235.4,349.6)"><rect x="-28.8" y="-9.97" width="57.6" height="19.94" fill="#e88e4e"/><text><tspan x="0" y="-1.3">samples = 55</tspan><tspan x="0" y="6.6">value = [86, 9]</tspan></text></g>
<g id="n132" class="n" transform="translate(3305.7,349.6)"><rect x="-31" y="-9.97" width="62" height="19.94" fill="#e68540"/><text><tspan x="0" y="-1.3">samples = 123</tspan><tspan x="0" y="6.6">value = [176, 6]</tspan></text></g>
<g id="n133" class="n" transform="translate(3382.7,302.0)"><rect x="-32.95" y="-9.97" width="65.9" height="19.94" fill="#e78c4b"/><text><tspan x="0" y="-1.3">samples = 124</tspan><tspan x="0" y="6.6">value = [186, 17]</tspan></text></g>
<g id="n134" class="n" transform="translate(3457.5,63.7)"><rect x="-46" y="-13.85" width="92" height="27.7" fill="#ea995f"/><text><tspan x="0" y="-5">NPathComplexity &lt;= 0.5</tspan><tspan x="0" y="2.7">samples = 1758</tspan><tspan x="0" y="10.4">value = [2325, 448]</tspan></text></g>
<g id="n135" class="n" transform="translate(3457.5,111.4)"><rect x="-37.4" y="-13.85" width="74.8" height="27.7" fill="#eca571"/><text><tspan x="0" y="-5">HiddenField &lt;= 0.5</tspan><tspan x="0" y="2.7">samples = 818</tspan><tspan x="0" y="10.4">value = [1009, 288]</tspan></text></g>
<g id="n136" class="n" transform="translate(3416.0,159.0)"><rect x="-36.85" y="-13.85" width="73.7" height="27.7" fill="#eeac7d"/><text><tspan x="0" y="-5">IllegalCatch &lt;= 0.5</tspan><tspan x="0" y="2.7">samples = 402</tspan><tspan x="0" y="10.4">value = [488, 167]</tspan></text></g>
<g id="n137" class="n" transform="translate(3368.3,206.7)"><rect x="-41.25" y="-13.85" width="82.5" height="27.7" fill="#f0b68d"/><text><tspan x="0" y="-5">NestedIfDepth &lt;= 0.5</tspan><tspan x="0" y="2.7">samples = 321</tspan><tspan x="0" y="10.4">value = [370, 157]</tspan></text></g>
<g id="n138" class="n" transform="translate(3353.9,254.3)"><rect x="-34.65" y="-9.97" width="69.3" height="19.94" fill="#f1bb94"/><text><tspan x="0" y="-1.3">samples = 258</tspan><tspan x="0" y="6.6">value = [292, 135]</tspan></text></g>
<g id="n139" class="n" transform="translate(3431.5,254.3)"><rect x="-30.75" y="-9.97" width="61.5" height="19.94" fill="#eca471"/><text><tspan x="0" y="-1.3">samples = 63</tspan><tspan x="0" y="6.6">value = [78, 22]</tspan></text></g>
<g id="n140" class="n" transform="translate(3453.1,206.7)"><rect x="-32.7" y="-9.97" width="65.4" height="19.94" fill="#e78c4a"/><text><tspan x="0" y="-1.3">samples = 81</tspan><tspan x="0" y="6.6">value = [118, 10]</tspan></text></g>
<g id="n141" class="n" transform="translate(3499.1,159.0)"><rect x="-35.2" y="-9.97" width="70.4" height="19.94" fill="#eb9e67"/><text><tspan x="0" y="-1.3">samples = 416</tspan><tspan x="0" y="6.6">value = [521, 121]</tspan></text></g>
<g id="n142" class="n" transform="translate(3622.1,111.4)"><rect x="-44.3" y="-13.85" width="88.6" height="27.7" fill="#e89051"/><text><tspan x="0" y="-5">VisibilityModifier &lt;= 0.5</tspan><tspan x="0" y="2.7">samples = 940</tspan><tspan x="0" y="10.4">value = [1316, 160]</tspan></text></g>
<g id="n143" class="n" transform="translate(3622.1,159.0)"><rect x="-49.05" y="-13.85" width="98.1" height="27.7" fill="#e88e4e"/><text><tspan x="0" y="-5">JavadocParagraph &lt;= 0.5</tspan><tspan x="0" y="2.7">samples = 477</tspan><tspan x="0" y="10.4">value = [659, 70]</tspan></text></g>
<g id="n144" class="n" transform="translate(3586.6,206.7)"><rect x="-35.45" y="-13.85" width="70.9" height="27.7" fill="#e89152"/><text><tspan x="0" y="-5">JavaNCSS &lt;= 0.5</tspan><tspan x="0" y="2.7">samples = 296</tspan><tspan x="0" y="10.4">value = [396, 51]</tspan></text></g>
<g id="n145" class="n" transform="translate(3503.5,254.3)"><rect x="-30.45" y="-9.97" width="60.9" height="19.94" fill="#e89254"/><text><tspan x="0" y="-1.3">samples = 58</tspan><tspan x="0" y="6.6">value = [81, 11]</tspan></text></g>
<g id="n146" class="n" transform="translate(3588.8,254.3)"><rect x="-44.3" y="-13.85" width="88.6" height="27.7" fill="#e89152"/><text><tspan x="0" y="-5">AvoidStarImport &lt;= 0.5</tspan><tspan x="0" y="2.7">samples = 238</tspan><tspan x="0" y="10.4">value = [315, 40]</tspan></text></g>
<g id="n147" class="n" transform="translate(3557.8,302.0)"><rect x="-61.2" y="-13.85" width="122.4" height="27.7" fill="#e99457"/><text><tspan x="0" y="-5">UnnecessaryParentheses &lt;= 0.5</tspan><tspan x="0" y="2.7">samples = 188</tspan><tspan x="0" y="10.4">value = [242, 36]</tspan></text></g>
<g id="n148" class="n" transform="translate(3501.8,349.6)"><rect x="-69.55" y="-13.85" width="139.1" height="27.7" fill="#e78b49"/><text><tspan x="0" y="-5">ClassDataAbstractionCoupling &lt;= 0.5</tspan><tspan x="0" y="2.7">samples = 117</tspan><tspan x="0" y="10.4">value = [157, 13]</tspan></text></g>
<g id="n149" class="n" transform="translate(3466.9,397.2)"><rect x="-28.8" y="-9.97" width="57.6" height="19.94" fill="#e6843d"/><text><tspan x="0" y="-1.3">samples = 64</tspan><tspan x="0" y="6.6">value = [93, 2]</tspan></text></g>
<g id="n150" class="n" transform="translate(3537.3,397.2)"><rect x="-30.75" y="-9.97" width="61.5" height="19.94" fill="#e9975b"/><text><tspan x="0" y="-1.3">samples = 53</tspan><tspan x="0" y="6.6">value = [64, 11]</tspan></text></g>
<g id="n151" class="n" transform="translate(3613.2,349.6)"><rect x="-31" y="-9.97" width="62" height="19.94" fill="#eca36f"/><text><tspan x="0" y="-1.3">samples = 71</tspan><tspan x="0" y="6.6">value = [85, 23]</tspan></text></g>
<g id="n152" class="n" transform="translate(3658.6,302.0)"><rect x="-28.8" y="-9.97" width="57.6" height="19.94" fill="#e68844"/><text><tspan x="0" y="-1.3">samples = 50</tspan><tspan x="0" y="6.6">value = [73, 4]</tspan></text></g>
<g id="n153" class="n" transform="translate(3674.1,206.7)"><rect x="-41.25" y="-13.85" width="82.5" height="27.7" fill="#e78a47"/><text><tspan x="0" y="-5">NestedIfDepth &lt;= 0.5</tspan><tspan x="0" y="2.7">samples = 181</tspan><tspan x="0" y="10.4">value = [263, 19]</tspan></text></g>
<g id="n154" class="n" transform="translate(3672.5,254.3)"><rect x="-28.8" y="-9.97" width="57.6" height="19.94" fill="#e5833c"/><text><tspan x="0" y="-1.3">samples = 51</tspan><tspan x="0" y="6.6">value = [77, 1]</tspan></text></g>
<g id="n155" class="n" transform="translate(3745.0,254.3)"><rect x="-32.7" y="-9.97" width="65.4" height="19.94" fill="#e88d4c"/><text><tspan x="0" y="-1.3">samples = 130</tspan><tspan x="0" y="6.6">value = [186, 18]</tspan></text></g>
<g id="n156" class="n" transform="translate(3850.9,159.0)"><rect x="-45.7" y="-13.85" width="91.4" height="27.7" fill="#e99254"/><text><tspan x="0" y="-5">TrailingComment &lt;= 0.5</tspan><tspan x="0" y="2.7">samples = 463</tspan><tspan x="0" y="10.4">value = [657, 90]</tspan></text></g>
<g id="n157" class="n" transform="translate(3850.9,206.7)"><rect x="-36.55" y="-13.85" width="73.1" height="27.7" fill="#e89051"/><text><tspan x="0" y="-5">IllegalCatch &lt;= 0.5</tspan><tspan x="0" y="2.7">samples = 136</tspan><tspan x="0" y="10.4">value = [207, 25]</tspan></text></g>
<g id="n158" class="n" transform="translate(3819.3,254.3)"><rect x="-30.75" y="-9.97" width="61.5" height="19.94" fill="#e88e4d"/><text><tspan x="0" y="-1.3">samples = 67</tspan><tspan x="0" y="6.6">value = [98, 10]</tspan></text></g>
<g id="n159" class="n" transform="translate(3894.1,254.3)"><rect x="-32.95" y="-9.97" width="65.9" height="19.94" fill="#e99254"/><text><tspan x="0" y="-1.3">samples = 69</tspan><tspan x="0" y="6.6">value = [109, 15]</tspan></text></g>
<g id="n160" class="n" transform="translate(3974.4,206.7)"><rect x="-45.7" y="-13.85" width="91.4" height="27.7" fill="#e99356"/><text><tspan x="0" y="-5">InnerAssignment &lt;= 0.5</tspan><tspan x="0" y="2.7">samples = 327</tspan><tspan x="0" y="10.4">value = [450, 65]</tspan></text></g>
<g id="n161" class="n" transform="translate(3975.0,254.3)"><rect x="-36.55" y="-13.85" width="73.1" height="27.7" fill="#e9965a"/><text><tspan x="0" y="-5">IllegalCatch &lt;= 0.5</tspan><tspan x="0" y="2.7">samples = 253</tspan><tspan x="0" y="10.4">value = [353, 59]</tspan></text></g>
<g id="n162" class="n" transform="translate(4050.8,254.3)"><rect x="-28.55" y="-9.97" width="57.1" height="19.94" fill="#e78945"/><text><tspan x="0" y="-1.3">samples = 74</tspan><tspan x="0" y="6.6">value = [97, 6]</tspan></text></g>
<g id="n163" class="n" transform="translate(3928.4,302.0)"><rect x="-32.95" y="-9.97" width="65.9" height="19.94" fill="#e99457"/><text><tspan x="0" y="-1.3">samples = 88</tspan><tspan x="0" y="6.6">value = [118, 18]</tspan></text></g>
<g id="n164" class="n" transform="translate(4020.4,302.0)"><rect x="-49.05" y="-13.85" width="98.1" height="27.7" fill="#e9975c"/><text><tspan x="0" y="-5">ExplicitInitialization &lt;= 0.5</tspan><tspan x="0" y="2.7">samples = 165</tspan><tspan x="0" y="10.4">value = [235, 41]</tspan></text></g>
<g id="n165" class="n" transform="translate(3983.3,349.6)"><rect x="-30.45" y="-9.97" width="60.9" height="19.94" fill="#ea975c"/><text><tspan x="0" y="-1.3">samples = 66</tspan><tspan x="0" y="6.6">value = [97, 17]</tspan></text></g>
<g id="n166" class="n" transform="translate(4055.8,349.6)"><rect x="-31.6" y="-9.97" width="63.2" height="19.94" fill="#e9975b"/><text><tspan x="0" y="-1.3">samples = 99</tspan><tspan x="0" y="6.6">value = [138, 24]</tspan></text></g>
</svg>
